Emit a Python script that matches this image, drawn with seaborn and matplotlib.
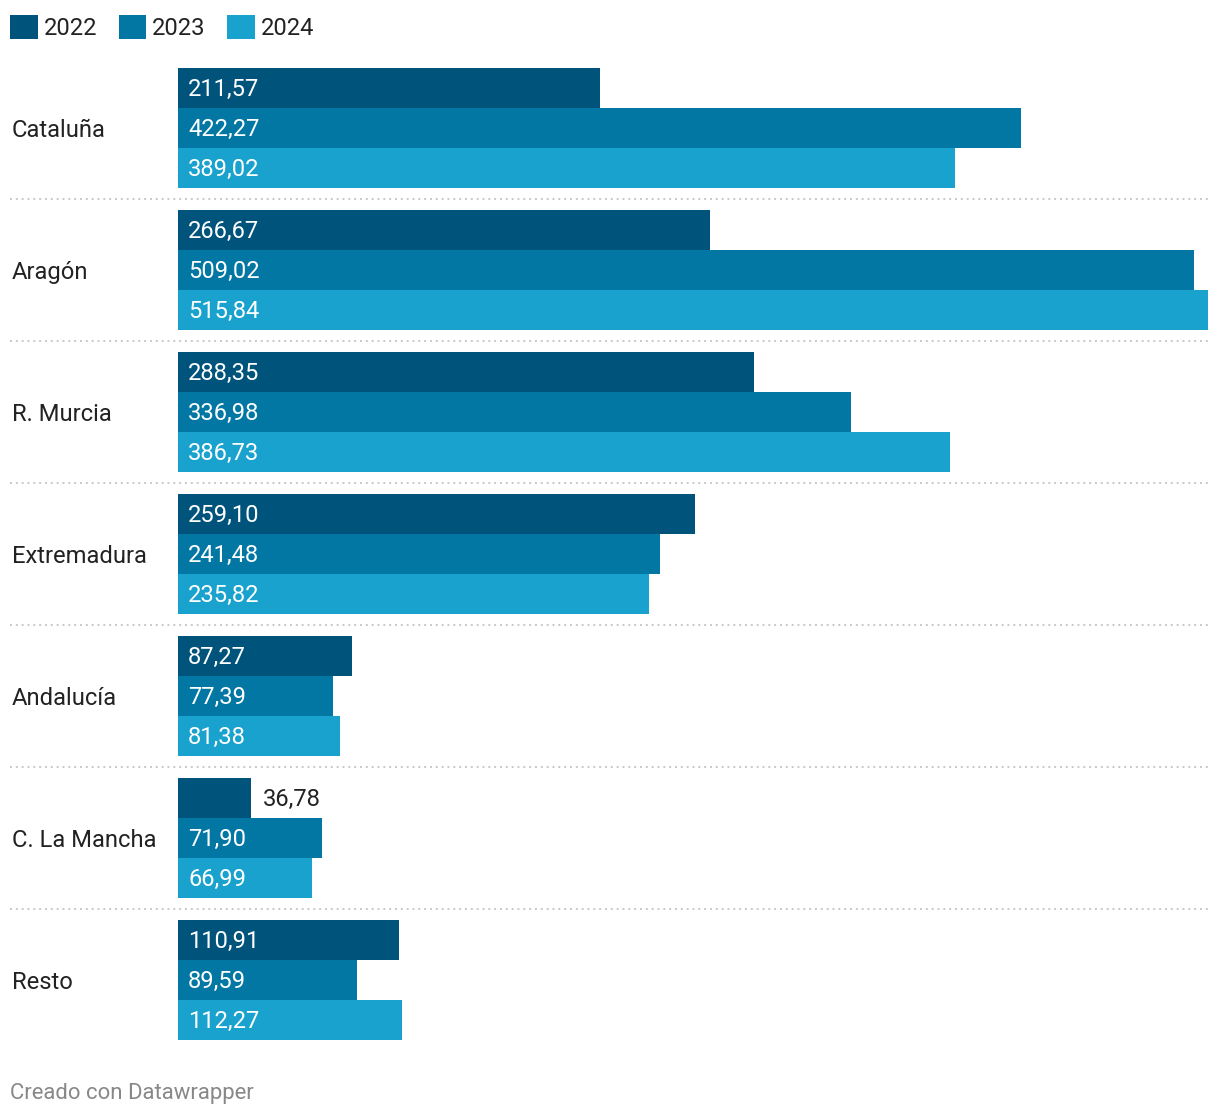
import pandas as pd
import matplotlib.pyplot as plt
import seaborn as sns

regions = ["Cataluña", "Aragón", "R. Murcia", "Extremadura", "Andalucía", "C. La Mancha", "Resto"]
years = ["2022", "2023", "2024"]
v2022 = [211.57, 266.67, 288.35, 259.10, 87.27, 36.78, 110.91]
v2023 = [422.27, 509.02, 336.98, 241.48, 77.39, 71.90, 89.59]
v2024 = [389.02, 515.84, 386.73, 235.82, 81.38, 66.99, 112.27]
colors = ["#00547c", "#0277a3", "#19a2cd"]

df = pd.DataFrame({
    "Region": regions * 3,
    "Year": [y for y in years for _ in regions],
    "Value": v2022 + v2023 + v2024,
})

sns.set_style("white")
plt.rcParams["font.family"] = ["Roboto", "DejaVu Sans"]
txt = "#222222"
fs = 17.1

W, H = 1220, 1118
fig = plt.figure(figsize=(W / 100, H / 100), dpi=100)
# axes placed in pixel terms: bars start at x=178, longest bar ends at 1208
ax = fig.add_axes([178 / W, 1 - 1051 / H, 1030 / W, 994 / H])

sns.barplot(
    data=df, x="Value", y="Region", hue="Year",
    order=regions, hue_order=years, palette=colors, saturation=1,
    orient="h", width=120 / 142, gap=0, errorbar=None,
    linewidth=0, ax=ax,
)

ax.set_xlim(0, max(v2024))
ax.set_ylim(len(regions) - 0.5, -0.5)
ax.set_xlabel("")
ax.set_ylabel("")
ax.set_xticks([])
for s in ax.spines.values():
    s.set_visible(False)

# region labels on the left, left aligned
ax.tick_params(axis="y", length=0, pad=166 * 0.72, labelsize=fs, labelcolor=txt)
for lbl in ax.get_yticklabels():
    lbl.set_horizontalalignment("left")

# dotted separators between groups
for i in range(len(regions) - 1):
    ax.axhline(i + 0.5, xmin=-168 / 1030, xmax=1, color="#c8c8c8",
               linestyle=(0, (1, 2)), linewidth=1.4, clip_on=False)

# value labels
px = max(v2024) / 1030  # data units per pixel
for cont in ax.containers:
    for bar in cont:
        w = bar.get_width()
        yc = bar.get_y() + bar.get_height() / 2 + 0.007
        lab = f"{w:.2f}".replace(".", ",")
        if w / px < 85:
            ax.text(w + 11 * px, yc, lab, ha="left", va="center",
                    color=txt, fontsize=fs)
        else:
            ax.text(10 * px, yc, lab, ha="left", va="center",
                    color="white", fontsize=fs)

# legend at top left
ax.legend(
    loc="upper left", bbox_to_anchor=(10 / W, 1 - 15 / H),
    bbox_transform=fig.transFigure, ncol=3, frameon=False,
    fontsize=fs, handlelength=1.17, handleheight=1.17,
    handletextpad=0.25, columnspacing=0.9, borderpad=0, borderaxespad=0,
    labelcolor=txt,
)

fig.text(10 / W, 1 - 1093 / H, "Creado con Datawrapper", ha="left", va="center",
         color="#888888", fontsize=15.9)

fig.savefig("out.png", dpi=100)
